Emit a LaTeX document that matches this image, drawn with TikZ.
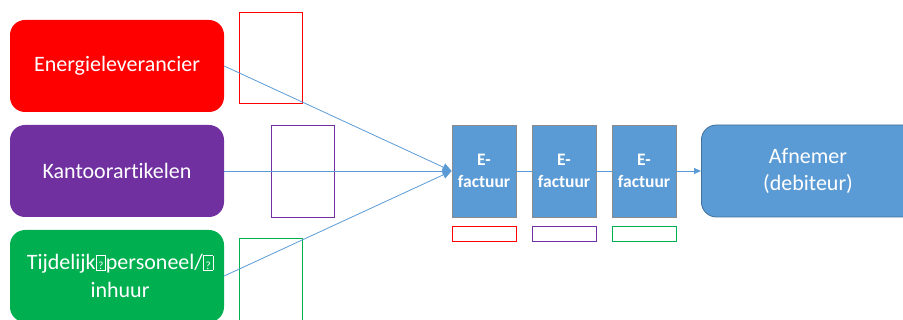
\documentclass[tikz,border=0pt]{standalone}
\usepackage{fontspec}
\setmainfont{Carlito}[Ligatures={NoCommon}]
\usetikzlibrary{arrows.meta}
\definecolor{cred}{HTML}{FF0000}
\definecolor{cpurple}{HTML}{7030A0}
\definecolor{cgreen}{HTML}{00B050}
\definecolor{cblue}{HTML}{5B9BD5}
\definecolor{cblueborder}{HTML}{41719C}
\definecolor{cgray}{HTML}{8C8C8C}
\newcommand{\tofu}{{\setlength{\fboxsep}{0pt}\setlength{\fboxrule}{0.5pt}\fbox{\rule{0pt}{0.62em}\makebox[0.42em][c]{\fontsize{11}{11}\selectfont ?}}}}
\tikzset{
  source/.style={rounded corners=15pt, minimum width=214pt, minimum height=92pt, inner sep=0pt, text=white, font=\fontsize{22}{28}\selectfont, align=center},
  outl/.style={draw, line width=0.8pt, minimum width=63pt, inner sep=0pt},
  efact/.style={fill=cblue, draw=cgray, line width=0.8pt, minimum width=64pt, minimum height=92pt, inner sep=0pt, text=white, font=\fontsize{17.5}{22}\bfseries\selectfont, align=center},
  tag/.style={draw, line width=0.8pt, minimum width=64pt, minimum height=15pt, inner sep=0pt},
  conn/.style={draw=cblue, line width=0.8pt},
  arr/.style={conn, -{Triangle[length=9pt, width=8pt]}},
  arrs/.style={conn, -{Triangle[length=7pt, width=6pt]}}
}
\begin{document}
\begin{tikzpicture}[x=1pt, y=-1pt]
\useasboundingbox (0,0) rectangle (903,320);
\clip (0,0) rectangle (903,320);
% source boxes
\node[source, fill=cred] (red) at (117,66) {Energieleverancier};
\node[source, fill=cpurple] (purple) at (117,171) {Kantoorartikelen};
\node[source, fill=cgreen] (green) at (117,276) {};
\node[text=white, font=\fontsize{22}{28}\selectfont, align=center] (greentext) at (120,276) {Tijdelijk\tofu personeel/\tofu\\inhuur};
% outline rectangles
\node[outl, draw=cred, minimum height=91pt] (ored) at (270.5,57.5) {};
\node[outl, draw=cpurple, minimum height=92pt] (opurple) at (302.5,171) {};
\node[outl, draw=cgreen, minimum height=92pt] (ogreen) at (270.5,284) {};
% e-factuur boxes
\node[efact] (e1) at (484,171) {E-\\factuur};
\node[efact] (e2) at (564,171) {E-\\factuur};
\node[efact] (e3) at (644,171) {E-\\factuur};
% tags
\node[tag, draw=cred] (t1) at (484,233.5) {};
\node[tag, draw=cpurple] (t2) at (564,233.5) {};
\node[tag, draw=cgreen] (t3) at (644,233.5) {};
% afnemer
\node[fill=cblue, draw=cblueborder, line width=0.8pt, rounded corners=15pt, minimum width=230pt, minimum height=92pt, inner sep=0pt, anchor=west] (af) at (701,171) {};
\node[text=white, font=\fontsize{22}{27}\selectfont, align=center] (aftext) at (808,171) {Afnemer\\(debiteur)};
% connectors
\draw[arr] (red.east) -- (e1.west);
\draw[arr] (purple.east) -- (e1.west);
\draw[arr] (green.east) -- (e1.west);
\draw[conn] (e1.east) -- (e2.west);
\draw[conn] (e2.east) -- (e3.west);
\draw[arrs] (e3.east) -- (af.west);
\end{tikzpicture}
\end{document}
